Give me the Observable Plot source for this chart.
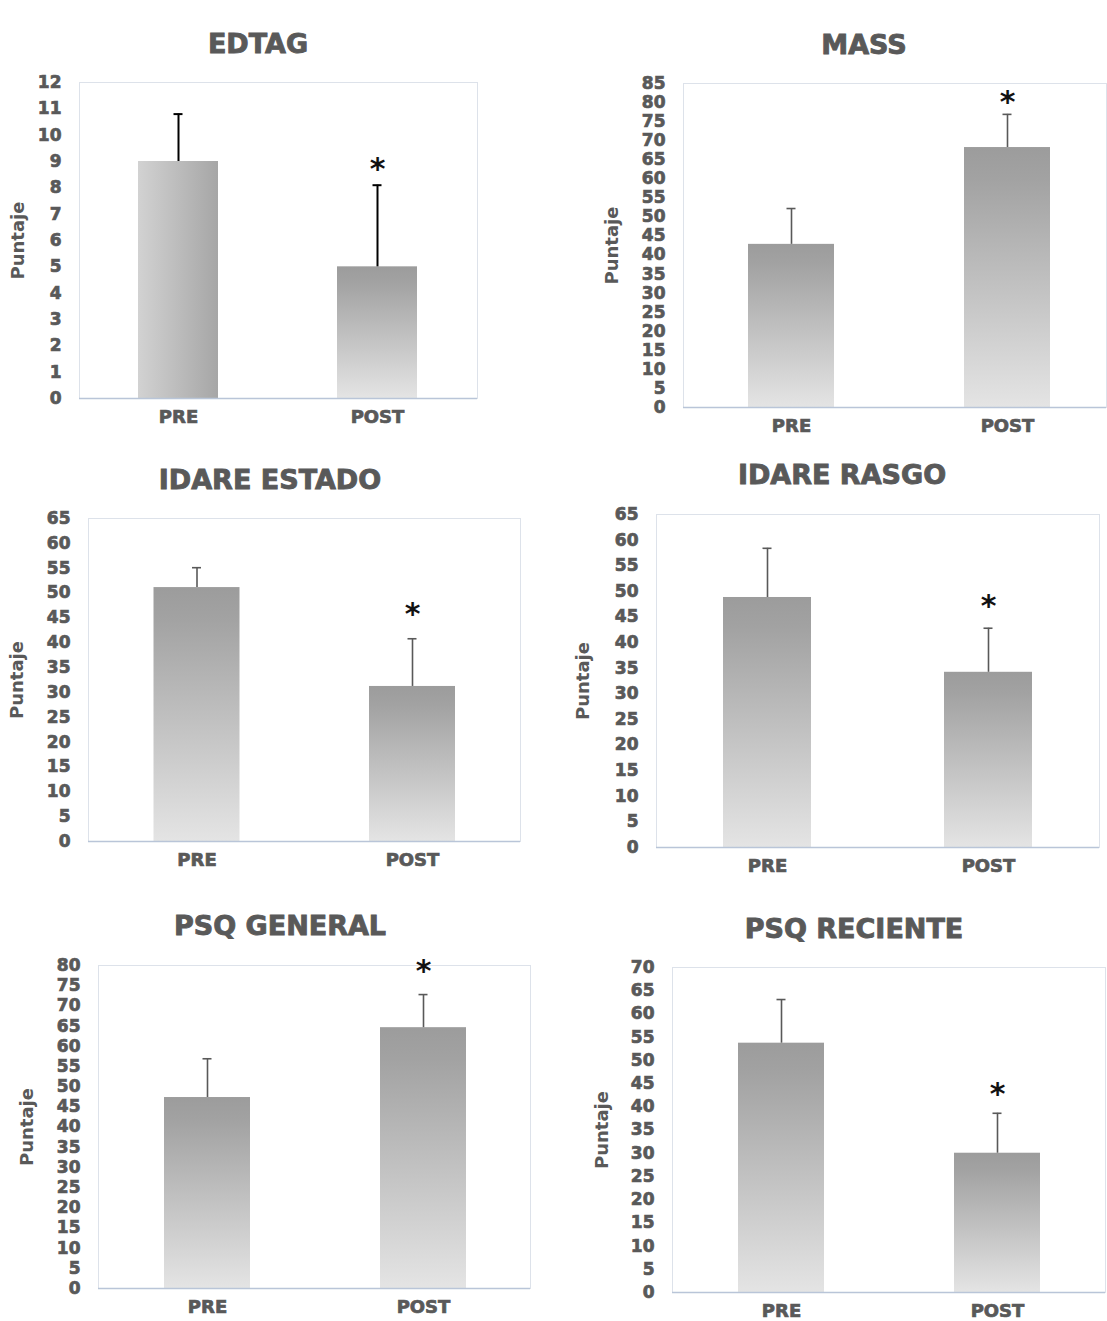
<!DOCTYPE html>
<html>
<head>
<meta charset="utf-8">
<script src="https://cdn.jsdelivr.net/npm/d3@7"></script>
<script src="https://cdn.jsdelivr.net/npm/@observablehq/plot@0.6"></script>
<style>
  html, body { margin: 0; padding: 0; background: #fff; }
  #root { position: relative; width: 1107px; height: 1321px; overflow: hidden; background: #fff; }
  .title { position: absolute; transform: translate(-50%, -50%); font-family: "DejaVu Sans", sans-serif; font-weight: bold; font-size: 27px; color: #595959; white-space: nowrap; -webkit-text-stroke: 0.9px #595959; }
  .panel { position: absolute; }
  .panel g[aria-label="y-axis tick label"],
  .panel g[aria-label="x-axis tick label"],
  .panel g[aria-label="ylabel"] { stroke: #595959; stroke-width: 0.7px; }
</style>
</head>
<body>
<svg width="0" height="0" style="position:absolute">
  <defs>
    <linearGradient id="vgrad" x1="0" y1="0" x2="0" y2="1">
      <stop offset="0" stop-color="#9c9c9c"/>
      <stop offset="0.12" stop-color="#a2a2a2"/>
      <stop offset="1" stop-color="#e4e4e4"/>
    </linearGradient>
    <linearGradient id="hgrad" x1="0" y1="0" x2="1" y2="0">
      <stop offset="0" stop-color="#d2d2d2"/>
      <stop offset="1" stop-color="#a6a6a6"/>
    </linearGradient>
  </defs>
</svg>
<div id="root"></div>
<script>
// ---- data ----
const titles = ["EDTAG", "MASS", "IDARE ESTADO", "IDARE RASGO", "PSQ GENERAL", "PSQ RECIENTE"];
const groups = ["PRE", "POST"];
const preMeans = [9, 42.8, 51.1, 48.8, 47.3, 53.7];
const preErr = [1.8, 9.4, 4.0, 9.6, 9.6, 9.4];
const postMeans = [5, 68.2, 31.2, 34.2, 64.6, 30.0];
const postErr = [3.1, 8.7, 9.6, 8.6, 8.2, 8.6];
const starValues = [9.0, 82.1, 47.3, 48.7, 80.5, 44.4];
const yMax = [12, 85, 65, 65, 80, 70];
const yStep = [1, 5, 5, 5, 5, 5];
const yLabel = "Puntaje";

// ---- layout (page pixel positions) ----
const layout = [
  {L: 79,  R: 477,  T: 82,  B: 398,  b0: 138,   b1: 417,  bw: 80, tx: 258, ty: 43,  lx: 18,  sl: 0,   sw: 553, errColor: "#000", errW: 2,   preFill: "url(#hgrad)"},
  {L: 683, R: 1106, T: 83,  B: 407,  b0: 748,   b1: 1050, bw: 86, tx: 864, ty: 44,  lx: 612, sl: 553, sw: 554, errColor: "#595959", errW: 1.6, preFill: "url(#vgrad)"},
  {L: 88,  R: 520,  T: 518, B: 841,  b0: 153.5, b1: 455,  bw: 86, tx: 270, ty: 479, lx: 17,  sl: 0,   sw: 553, errColor: "#595959", errW: 1.6, preFill: "url(#vgrad)"},
  {L: 656, R: 1099, T: 514, B: 847,  b0: 723,   b1: 1032, bw: 88, tx: 842, ty: 474, lx: 583, sl: 553, sw: 554, errColor: "#595959", errW: 1.6, preFill: "url(#vgrad)"},
  {L: 98,  R: 530,  T: 965, B: 1288, b0: 164,   b1: 466,  bw: 86, tx: 280, ty: 925, lx: 27,  sl: 0,   sw: 553, errColor: "#595959", errW: 1.6, preFill: "url(#vgrad)"},
  {L: 672, R: 1105, T: 967, B: 1292, b0: 738,   b1: 1040, bw: 86, tx: 854, ty: 928, lx: 602, sl: 553, sw: 554, errColor: "#595959", errW: 1.6, preFill: "url(#vgrad)"}
];

const root = document.getElementById("root");
const textColor = "#595959";

titles.forEach((title, i) => {
  const g = layout[i];
  const t = document.createElement("div");
  t.className = "title";
  t.style.left = g.tx + "px";
  t.style.top = g.ty + "px";
  t.textContent = title;
  root.appendChild(t);

  const rows = groups.map((grp, j) => ({
    group: grp,
    mean: j === 0 ? preMeans[i] : postMeans[i],
    err: j === 0 ? preErr[i] : postErr[i]
  }));
  const stars = [{group: "POST", value: starValues[i]}];

  const svgTop = g.T - 40;
  const height = (g.B + 42) - svgTop;
  const width = g.sw;
  const step = (g.b1 - g.b0) - g.bw;
  const pInner = 1 - g.bw / step;
  const capInset = (g.bw - 9) / 2;

  const plot = Plot.plot({
    width, height,
    marginLeft: g.L - g.sl,
    marginRight: g.sl + width - g.R,
    marginTop: g.T - svgTop,
    marginBottom: svgTop + height - g.B,
    style: {fontFamily: "DejaVu Sans, sans-serif", fontSize: "17px", fontWeight: "bold", color: textColor, background: "transparent", overflow: "visible"},
    x: {domain: groups, range: [g.b0 - g.sl, g.b1 - g.sl], paddingInner: pInner, paddingOuter: 0, align: 0.5, round: false},
    y: {domain: [0, yMax[i]]},
    marks: [
      Plot.frame({stroke: "#dde2ea", strokeWidth: 1}),
      Plot.barY(rows.filter(d => d.group === "PRE"), {x: "group", y: "mean", fill: g.preFill}),
      Plot.barY(rows.filter(d => d.group === "POST"), {x: "group", y: "mean", fill: "url(#vgrad)"}),
      Plot.ruleY([0], {stroke: "#b9c5d8", strokeWidth: 1.5}),
      Plot.ruleX(rows, {x: "group", y1: "mean", y2: d => d.mean + d.err, stroke: g.errColor, strokeWidth: g.errW}),
      Plot.tickY(rows, {x: "group", y: d => d.mean + d.err, stroke: g.errColor, strokeWidth: g.errW, insetLeft: capInset, insetRight: capInset}),
      Plot.text(stars, {x: "group", y: "value", text: () => "*", fontSize: 30, fontWeight: "bold", fill: "#111", dy: 8}),
      Plot.axisY({ticks: d3.range(0, yMax[i] + yStep[i] / 2, yStep[i]), tickSize: 0, tickPadding: 18, label: null, fontSize: 17, fontWeight: "bold"}),
      Plot.axisX({tickSize: 0, tickPadding: 12, label: null, fontSize: 18, fontWeight: "bold"}),
      Plot.text([yLabel], {frameAnchor: "left", textAnchor: "middle", dx: -(g.L - g.lx), rotate: -90, fontSize: 18, fontWeight: "bold", fill: textColor, ariaLabel: "ylabel"})
    ]
  });
  plot.classList.add("panel");
  plot.style.left = g.sl + "px";
  plot.style.top = svgTop + "px";
  root.appendChild(plot);
});
</script>
</body>
</html>
